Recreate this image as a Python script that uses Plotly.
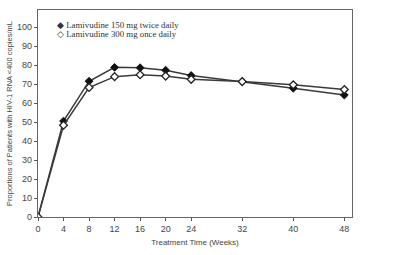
import plotly.graph_objects as go

weeks = [0, 4, 8, 12, 16, 20, 24, 32, 40, 48]
twice_daily = [0, 50.5, 71.5, 78.8, 78.6, 77.3, 74.5, 71.3, 67.8, 64.2]
once_daily = [0, 48.3, 68.2, 73.9, 74.9, 74.2, 72.5, 71.3, 69.6, 67.1]
name_twice = "Lamivudine 150 mg twice daily"
name_once = "Lamivudine 300 mg once daily"
x_ticks = [0, 4, 8, 12, 16, 20, 24, 32, 40, 48]
y_ticks = [0, 10, 20, 30, 40, 50, 60, 70, 80, 90, 100]

fig = go.Figure()
fig.add_trace(go.Scatter(
    x=weeks, y=twice_daily, name=name_twice, mode="lines+markers", showlegend=False,
    line=dict(color="#3a3a3a", width=1.5),
    marker=dict(symbol="diamond", size=6, color="#111111", line=dict(color="#111111", width=1)),
))
fig.add_trace(go.Scatter(
    x=weeks, y=once_daily, name=name_once, mode="lines+markers", showlegend=False,
    line=dict(color="#3a3a3a", width=1.5),
    marker=dict(symbol="diamond", size=6, color="white", line=dict(color="#222222", width=1.3)),
))

legend_font = dict(family="Liberation Serif, Times New Roman, serif", size=8.8, color="#333333")
for label, glyph, yy in [(name_twice, "\u25c6", 0.929), (name_once, "\u25c7", 0.882)]:
    fig.add_annotation(xref="paper", yref="paper", x=0.055, y=yy, xanchor="left", yanchor="middle",
                       text=glyph + " " + label, showarrow=False, font=legend_font)

tick_font = dict(family="Liberation Sans Narrow, Arial Narrow, Liberation Sans", size=9, color="#444444")
title_font = dict(family="Liberation Sans, Arial", size=8, color="#444444")
fig.update_layout(
    width=400, height=255,
    margin=dict(l=38, r=48, t=9, b=34),
    paper_bgcolor="white", plot_bgcolor="white",
    showlegend=False,
    xaxis=dict(range=[0, 49.2], tickvals=x_ticks, ticks="outside", ticklen=3,
               tickcolor="#555555", tickfont=tick_font, showgrid=False, zeroline=False,
               showline=True, linecolor="#666666", linewidth=1.2, mirror=True,
               title=dict(text="Treatment Time (Weeks)", font=title_font, standoff=6)),
    yaxis=dict(range=[0, 109], tickvals=y_ticks, ticks="outside", ticklen=3,
               tickcolor="#555555", tickfont=tick_font, showgrid=False, zeroline=False,
               showline=True, linecolor="#666666", linewidth=1.2, mirror=True,
               title=dict(text="Proportions of Patients with HIV-1 RNA <400 copies/mL",
                          font=dict(family="Liberation Sans, Arial", size=7.5, color="#444444"),
                          standoff=3)),
)
fig.write_html("out.html")
